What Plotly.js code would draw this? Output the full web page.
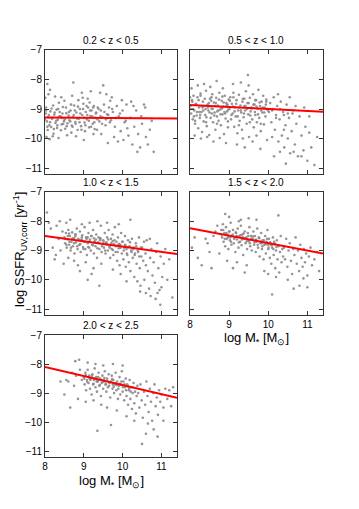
<!DOCTYPE html>
<html>
<head>
<meta charset="utf-8">
<script src="https://cdn.plot.ly/plotly-3.0.1.min.js"></script>
<style>
  html, body { margin: 0; padding: 0; background: #fff; }
  #chart { width: 359px; height: 509px; }
</style>
</head>
<body>
<div id="chart"></div>
<script>
// redshift bins
var zBins = ['0.2 &lt; z &lt; 0.5', '0.5 &lt; z &lt; 1.0', '1.0 &lt; z &lt; 1.5', '1.5 &lt; z &lt; 2.0', '2.0 &lt; z &lt; 2.5'];

// fit lines, log SSFR at log M = 8 and 11.4
var fitX = [8, 11.4];
var fitStart = [-9.29, -8.86, -8.5, -8.24, -8.1];
var fitEnd = [-9.32, -9.09, -9.12, -9.1, -9.16];

// galaxies, 0.2 < z < 0.5
var m1 = [8.02,8.05,8.08,8.03,8.11,8.14,8.07,8.18,8.21,8.16,8.24,8.27,8.3,8.22,8.33,8.36,8.31,8.4,8.43,8.38,8.46,8.49,8.52,8.44,8.55,8.58,8.5,8.61,8.57,8.63,
  8.01,8.04,8.09,8.12,8.06,8.13,8.2,8.26,8.35,8.42,
  8.66,8.69,8.72,8.75,8.78,8.81,8.84,8.87,8.9,8.93,8.96,8.99,9.02,9.05,9.08,9.11,9.14,9.17,9.2,9.23,9.26,9.29,8.7,8.8,8.95,9.0,9.1,9.25,8.73,9.18,8.68,8.86,9.03,9.15,9.28,8.97,
  9.32,9.36,9.4,9.44,9.48,9.52,9.56,9.6,9.65,9.7,9.75,9.8,9.85,9.9,9.95,10.0,10.05,10.1,10.15,10.2,10.25,10.3,10.35,10.4,10.45,10.5,10.6,10.7,10.8,9.42,9.58,9.72,9.88,10.02,10.22,10.38,10.55,10.65,9.45,9.62,9.5,9.34,10.12,9.98,10.28,10.48,10.58,10.75,9.78,9.68,
  8.0,8.03,8.06,8.1,8.13,8.17,8.19,8.23,8.25,8.29,8.32,8.34,8.37,8.41,8.45,8.47,8.51,8.54,8.56,8.6,8.62,8.65,8.67,8.71,8.74,8.77,8.79,8.83,8.85,8.89,8.91,8.94,8.98,9.01,9.04,9.07,9.09,9.13,9.16,9.19,9.22,9.24,9.27,9.31,9.35,9.38,9.43,9.47,9.53,9.57,9.63,9.67,9.73,9.83,9.93,10.08];
var s1 = [-9.15,-9.42,-9.28,-8.95,-9.55,-9.08,-9.71,-9.33,-8.88,-9.61,-9.19,-9.47,-9.02,-9.84,-9.36,-8.79,-9.64,-9.25,-9.52,-9.1,-8.93,-9.41,-9.67,-9.3,-9.14,-9.48,-8.72,-9.22,-9.89,-9.38,
  -8.62,-9.95,-8.5,-10.02,-8.15,-8.35,-9.92,-8.58,-9.98,-8.6,
  -9.05,-9.56,-9.27,-8.88,-9.44,-9.12,-9.71,-9.33,-9.0,-9.58,-9.2,-8.82,-9.46,-9.1,-9.35,-8.95,-9.62,-9.24,-9.05,-9.5,-8.9,-9.3,-8.55,-9.92,-8.45,-10.05,-8.65,-9.85,-8.1,-8.4,-9.8,-8.7,-9.75,-8.78,-9.68,-8.62,
  -9.12,-8.95,-9.42,-9.05,-9.28,-8.85,-9.55,-9.18,-8.95,-9.38,-9.1,-9.6,-8.9,-9.25,-9.75,-9.05,-9.45,-8.85,-9.9,-9.3,-10.2,-9.6,-9.05,-9.85,-10.3,-9.5,-9.95,-9.7,-10.45,-8.45,-8.5,-8.6,-10.1,-10.05,-8.75,-10.45,-8.85,-10.2,-9.85,-10.15,-8.2,-9.7,-9.65,-8.7,-8.9,-9.25,-8.95,-9.4,-9.95,-8.72,
  -9.35,-9.05,-9.6,-9.2,-9.45,-8.98,-9.3,-9.68,-9.12,-9.4,-9.55,-9.0,-9.25,-9.72,-9.15,-9.5,-9.35,-8.95,-9.58,-9.28,-9.1,-9.42,-8.85,-9.6,-9.2,-9.05,-9.5,-9.32,-8.92,-9.45,-9.15,-9.7,-9.0,-9.3,-9.55,-8.9,-9.2,-9.4,-9.05,-9.6,-9.25,-8.95,-9.45,-9.15,-9.35,-9.0,-9.25,-9.5,-9.1,-9.35,-9.2,-9.45,-9.0,-9.3,-9.15,-9.4];

// galaxies, 0.5 < z < 1.0
var m2 = [8.01,8.03,8.05,8.07,8.09,8.11,8.13,8.15,8.17,8.19,8.21,8.23,8.25,8.27,8.29,8.31,8.33,8.35,8.37,8.39,8.41,8.43,8.45,8.47,8.49,8.51,8.53,8.55,8.57,8.59,8.61,8.63,8.65,8.67,8.69,8.71,8.73,8.75,8.77,8.79,8.81,8.83,8.85,8.87,8.89,8.91,8.93,8.95,8.97,8.99,
  8.04,8.12,8.2,8.28,8.36,8.44,8.52,8.6,8.68,8.76,8.84,8.92,8.08,8.16,8.24,8.32,8.4,8.48,8.56,8.64,8.72,8.8,8.88,8.96,
  9.01,9.03,9.05,9.07,9.09,9.11,9.13,9.15,9.17,9.19,9.21,9.23,9.25,9.27,9.29,9.31,9.33,9.35,9.37,9.39,9.41,9.43,9.45,9.47,9.49,9.51,9.53,9.55,9.57,9.59,9.61,9.63,9.65,9.67,9.69,9.71,9.73,9.75,9.77,9.79,9.81,9.83,9.85,9.87,9.89,9.91,9.93,9.95,9.97,9.99,
  9.1,9.3,9.5,9.48,9.2,9.4,9.6,9.8,9.35,9.7,
  10.02,10.05,10.08,10.11,10.14,10.17,10.2,10.23,10.26,10.29,10.32,10.35,10.38,10.41,10.44,10.47,10.5,10.53,10.56,10.6,10.64,10.68,10.72,10.76,10.8,10.85,10.9,10.95,11.0,11.05,11.1,11.18,11.25,10.15,10.45,10.25,10.55,10.7,10.1,10.4,10.65,10.85,10.3,10.62,11.05,10.92,
  8.02,8.06,8.1,8.14,8.18,8.22,8.26,8.3,8.34,8.38,8.42,8.46,8.5,8.54,8.58,8.62,8.66,8.7,8.74,8.78,8.82,8.86,8.9,8.94,8.98,9.02,9.06,9.1,9.14,9.18,9.22,9.26,9.3,9.34,9.38,9.42,9.46,9.5,9.54,9.58,9.62,9.66,9.7,9.74,9.78,9.82,9.86,9.9,9.94,9.98,
  8.0,8.13,8.27,8.41,8.55,8.69,8.83,8.97,9.11,9.25,9.39,9.53,9.67,9.81,9.95,10.1,10.2,10.3,10.4,10.5];
var s2 = [-8.9,-9.15,-8.7,-9.35,-8.55,-9.05,-9.5,-8.82,-9.22,-8.6,-9.65,-8.95,-9.3,-8.48,-9.1,-9.78,-8.75,-9.42,-8.9,-9.2,-8.38,-9.58,-8.85,-9.05,-9.88,-8.65,-9.3,-8.98,-8.5,-9.45,-8.78,-9.12,-9.7,-8.62,-9.25,-8.88,-9.4,-8.45,-9.02,-9.55,-8.72,-9.18,-8.92,-9.85,-8.55,-9.32,-8.8,-9.08,-9.62,-8.68,
  -8.3,-9.9,-8.2,-10.0,-8.15,-9.95,-8.25,-10.1,-8.05,-9.98,-8.3,-10.15,-9.0,-8.85,-9.1,-8.95,-9.0,-8.8,-9.15,-8.9,-9.05,-8.95,-9.1,-8.85,
  -9.0,-8.6,-9.35,-8.82,-9.15,-8.45,-9.6,-8.95,-9.25,-8.7,-9.82,-9.05,-8.52,-9.4,-8.88,-9.12,-9.7,-8.65,-9.28,-8.9,-9.05,-8.4,-9.5,-8.8,-9.18,-9.95,-8.62,-9.08,-8.95,-9.35,-8.5,-9.62,-8.85,-9.2,-8.7,-9.45,-9.0,-8.35,-9.3,-8.9,-9.75,-8.75,-9.12,-8.55,-9.52,-8.95,-9.25,-8.68,-10.05,-9.05,
  -8.15,-8.1,-8.2,-7.85,-10.2,-10.3,-10.1,-10.35,-10.0,-9.9,
  -9.1,-8.8,-9.45,-9.0,-8.6,-9.7,-9.2,-8.9,-10.1,-9.35,-8.75,-9.9,-9.1,-10.3,-9.55,-8.85,-10.0,-9.3,-10.5,-9.75,-9.05,-10.2,-9.5,-10.6,-9.25,-9.9,-10.4,-9.6,-10.75,-9.8,-10.3,-10.9,-9.95,-10.6,-10.85,-8.5,-8.6,-8.9,-9.95,-9.7,-10.45,-10.6,-10.45,-9.15,-9.25,-8.95,
  -9.0,-8.75,-9.25,-8.85,-9.1,-8.7,-9.2,-8.9,-9.05,-8.65,-9.28,-8.95,-9.12,-8.72,-9.0,-9.22,-8.8,-9.08,-8.68,-9.18,-8.98,-8.78,-9.15,-8.88,-9.02,-8.72,-9.2,-8.92,-9.08,-8.82,-9.25,-8.95,-9.05,-8.75,-9.15,-8.9,-9.0,-8.8,-9.22,-8.98,-8.85,-9.1,-8.92,-9.18,-8.78,-9.05,-8.95,-9.12,-8.85,-9.0,
  -8.6,-9.4,-8.55,-9.45,-8.6,-9.5,-8.58,-9.42,-8.6,-9.55,-8.65,-9.45,-8.7,-9.5,-8.75,-9.05,-9.3,-9.0,-9.2,-9.15];

// galaxies, 1.0 < z < 1.5
var m3 = [8.05,8.1,8.15,8.2,8.25,8.3,8.35,8.4,8.45,8.48,8.38,8.28,
  8.5,8.52,8.54,8.56,8.58,8.6,8.62,8.64,8.66,8.68,8.7,8.72,8.74,8.76,8.78,8.8,8.82,8.84,8.86,8.88,8.9,8.92,8.94,8.96,8.98,9.0,9.02,9.04,9.06,9.08,9.1,9.12,9.14,9.16,9.18,9.2,9.22,9.24,9.26,9.28,9.3,9.32,9.34,9.36,9.38,9.4,9.42,9.44,9.46,9.48,
  8.55,8.65,8.75,8.85,8.95,9.05,9.15,9.25,9.35,9.45,8.6,8.9,9.2,9.4,9.1,
  9.5,9.52,9.54,9.56,9.58,9.6,9.62,9.64,9.66,9.68,9.7,9.72,9.74,9.76,9.78,9.8,9.82,9.84,9.86,9.88,9.9,9.92,9.94,9.96,9.98,10.0,10.02,10.04,10.06,10.08,10.1,10.12,10.14,10.16,10.18,10.2,10.22,10.24,10.26,10.28,10.3,10.32,10.34,10.36,10.38,10.4,10.42,10.44,10.46,10.48,
  9.6,9.9,10.2,9.75,9.95,10.1,
  10.5,10.53,10.56,10.59,10.62,10.65,10.68,10.71,10.74,10.77,10.8,10.83,10.86,10.89,10.92,10.95,10.98,11.02,11.06,11.1,11.15,11.2,10.6,10.72,10.85,10.55,10.7,10.9,11.0,11.28,10.97,10.45,10.6,
  8.51,8.55,8.59,8.63,8.67,8.71,8.75,8.79,8.83,8.87,8.91,8.95,8.99,9.03,9.07,9.11,9.15,9.19,9.23,9.27,9.31,9.35,9.39,9.43,9.47,9.51,9.55,9.59,9.63,9.67,9.71,9.75,9.79,9.83,9.87,9.91,9.95,9.99,10.03,10.07,10.11,10.15,10.19,10.23,10.27,10.31,10.35,10.39,10.43,10.47,
  8.62,8.78,8.94,9.1,9.26,9.42,9.58,9.74,9.9,10.06];
var s3 = [-7.7,-8.05,-8.25,-8.9,-9.3,-8.15,-8.6,-9.0,-8.35,-9.45,-8.0,-9.15,
  -8.55,-8.75,-8.4,-8.9,-8.62,-8.3,-8.8,-8.5,-9.0,-8.7,-8.38,-8.85,-8.58,-9.1,-8.45,-8.72,-8.25,-8.95,-8.6,-8.8,-8.35,-9.05,-8.65,-8.48,-8.88,-8.7,-8.2,-8.95,-8.55,-9.15,-8.75,-8.4,-8.9,-8.62,-9.0,-8.5,-8.8,-8.3,-9.1,-8.68,-8.85,-8.45,-9.25,-8.72,-8.55,-8.95,-8.6,-8.15,-9.05,-8.78,
  -8.05,-7.95,-9.35,-9.5,-8.1,-9.4,-8.05,-9.6,-8.0,-9.45,-9.25,-9.7,-9.8,-10.2,-10.0,
  -8.65,-8.9,-8.4,-9.1,-8.75,-8.55,-9.0,-8.3,-8.85,-9.25,-8.6,-8.95,-8.45,-9.15,-8.78,-8.2,-9.05,-8.7,-9.35,-8.55,-8.92,-9.5,-8.8,-8.4,-9.1,-8.7,-9.3,-8.9,-8.5,-9.55,-8.95,-9.15,-8.65,-9.4,-8.85,-9.7,-9.0,-8.6,-9.25,-8.9,-9.9,-9.1,-8.75,-9.45,-10.05,-9.05,-8.55,-9.6,-10.2,-9.2,
  -8.05,-8.1,-7.95,-9.65,-9.8,-10.05,
  -8.9,-9.35,-10.0,-9.1,-8.65,-9.7,-10.3,-9.25,-8.95,-9.85,-9.4,-10.1,-9.05,-8.75,-9.6,-10.35,-9.2,-9.9,-9.45,-8.95,-10.0,-9.3,-10.45,-10.55,-10.65,-8.7,-8.6,-10.45,-10.25,-10.6,-10.85,-10.4,-9.5,
  -8.6,-8.8,-8.5,-8.7,-8.9,-8.58,-8.75,-8.45,-8.85,-8.65,-8.78,-8.55,-8.95,-8.7,-8.6,-8.88,-8.68,-8.5,-8.82,-8.72,-8.62,-8.92,-8.75,-8.58,-8.85,-8.7,-9.0,-8.8,-8.62,-8.9,-8.75,-8.98,-8.65,-8.85,-9.05,-8.78,-8.9,-8.7,-9.0,-8.82,-9.1,-8.88,-8.72,-9.05,-8.95,-9.15,-8.85,-9.0,-9.2,-8.9,
  -8.42,-8.52,-8.62,-8.55,-8.58,-8.65,-8.72,-8.68,-8.78,-8.8];

// galaxies, 1.5 < z < 2.0
var m4 = [8.05,8.2,8.3,8.45,8.5,8.55,8.6,8.65,8.7,8.75,8.4,8.12,
  8.8,8.82,8.84,8.86,8.88,8.9,8.92,8.94,8.96,8.98,9.0,9.02,9.04,9.06,9.08,9.1,9.12,9.14,9.16,9.18,9.2,9.22,9.24,9.26,9.28,9.3,9.32,9.34,9.36,9.38,9.4,9.42,9.44,9.46,9.48,9.5,9.52,9.54,9.56,9.58,
  8.9,9.0,9.3,9.5,8.95,9.2,9.45,9.1,9.4,9.25,
  9.6,9.62,9.64,9.66,9.68,9.7,9.72,9.74,9.76,9.78,9.8,9.82,9.84,9.86,9.88,9.9,9.92,9.94,9.96,9.98,10.0,10.02,10.04,10.06,10.08,10.1,10.12,10.14,10.16,10.18,10.2,10.22,10.24,10.26,10.28,10.3,10.32,10.34,10.36,10.38,
  9.7,10.26,10.1,9.9,10.0,10.2,
  10.4,10.43,10.46,10.49,10.52,10.55,10.58,10.61,10.64,10.67,10.7,10.73,10.76,10.79,10.82,10.85,10.88,10.91,10.94,10.97,11.0,11.04,11.08,11.12,11.18,11.25,10.5,10.8,11.0,10.65,10.9,11.3,
  8.81,8.85,8.89,8.93,8.97,9.01,9.05,9.09,9.13,9.17,9.21,9.25,9.29,9.33,9.37,9.41,9.45,9.49,9.53,9.57,9.61,9.65,9.69,9.73,9.77,9.81,9.85,9.89,9.93,9.97,10.01,10.05,10.09,10.13,10.17,10.21,
  9.03,9.19,9.35,9.51,9.67,9.83,9.99,10.15];
var s4 = [-8.9,-9.25,-9.5,-8.75,-9.05,-9.6,-8.5,-8.35,-8.15,-9.1,-8.6,-8.55,
  -8.3,-8.55,-8.1,-8.7,-8.4,-8.85,-8.2,-8.6,-8.45,-8.95,-8.35,-8.65,-8.05,-8.8,-8.5,-8.3,-8.75,-8.55,-9.05,-8.4,-8.62,-8.25,-8.9,-8.5,-8.7,-8.15,-8.82,-8.45,-9.15,-8.6,-8.35,-8.75,-8.55,-8.95,-8.4,-8.68,-8.2,-8.85,-8.5,-9.0,
  -7.75,-7.85,-7.95,-7.9,-9.35,-9.4,-9.5,-9.6,-9.75,-8.0,
  -8.6,-8.35,-8.8,-8.5,-9.05,-8.7,-8.25,-8.9,-8.55,-9.2,-8.75,-8.4,-8.95,-8.65,-9.3,-8.8,-8.5,-9.1,-8.7,-8.3,-8.95,-8.6,-9.25,-8.8,-9.45,-8.9,-8.55,-9.15,-8.75,-9.6,-9.0,-8.65,-9.3,-8.85,-9.75,-9.05,-8.5,-9.4,-8.95,-9.2,
  -7.95,-7.8,-10.5,-9.7,-9.8,-9.9,
  -8.9,-9.3,-8.6,-9.55,-9.0,-8.75,-9.35,-9.8,-8.95,-9.15,-8.55,-9.45,-9.0,-9.7,-8.8,-9.25,-9.55,-8.95,-9.4,-9.1,-9.85,-9.2,-8.9,-9.5,-9.3,-9.05,-10.0,-10.2,-10.25,-10.3,-9.95,-9.7,
  -8.45,-8.3,-8.6,-8.4,-8.55,-8.35,-8.7,-8.45,-8.6,-8.38,-8.52,-8.72,-8.48,-8.62,-8.42,-8.58,-8.68,-8.5,-8.75,-8.6,-8.52,-8.72,-8.62,-8.8,-8.58,-8.7,-8.85,-8.65,-8.78,-8.6,-8.9,-8.72,-8.82,-8.95,-8.78,-8.88,
  -8.55,-8.5,-8.55,-8.65,-8.66,-8.75,-8.8,-8.7];

// galaxies, 2.0 < z < 2.5
var m5 = [8.4,8.5,8.55,8.65,8.7,8.75,8.8,8.85,8.6,8.9,8.95,8.78,8.88,
  9.0,9.02,9.04,9.06,9.08,9.1,9.12,9.14,9.16,9.18,9.2,9.22,9.24,9.26,9.28,9.3,9.32,9.34,9.36,9.38,9.4,9.42,9.44,9.46,9.48,9.5,9.52,9.54,9.56,9.58,9.6,9.62,9.64,9.66,9.68,
  9.1,9.3,9.5,9.05,9.25,9.45,9.35,9.6,
  9.7,9.72,9.74,9.76,9.78,9.8,9.82,9.84,9.86,9.88,9.9,9.92,9.94,9.96,9.98,10.0,10.02,10.04,10.06,10.08,10.1,10.12,10.14,10.16,10.18,10.2,10.22,10.24,10.26,10.28,10.3,10.32,10.34,10.36,10.38,
  9.75,10.0,9.85,9.7,10.1,10.3,
  10.4,10.43,10.46,10.49,10.52,10.55,10.58,10.61,10.64,10.67,10.7,10.73,10.76,10.79,10.82,10.85,10.88,10.91,10.94,10.97,11.0,11.05,11.1,11.15,11.2,11.3,10.5,10.6,10.8,10.9,11.05,11.25,10.65,
  9.01,9.05,9.09,9.13,9.17,9.21,9.25,9.29,9.33,9.37,9.41,9.45,9.49,9.53,9.57,9.61,9.65,9.69,9.73,9.77,9.81,9.85,9.89,9.93,9.97,10.01,10.05,10.09,10.13,10.17,10.21,10.25,
  9.15,9.35,9.55,9.75,9.95,10.15];
var s5 = [-8.6,-9.05,-8.55,-9.5,-8.3,-8.75,-8.4,-9.2,-8.6,-8.2,-8.55,-7.9,-7.85,
  -8.45,-8.7,-8.3,-8.9,-8.55,-8.2,-8.65,-8.4,-8.85,-8.5,-9.05,-8.35,-8.7,-8.55,-8.15,-8.8,-8.45,-8.95,-8.6,-8.3,-8.75,-8.5,-9.1,-8.65,-8.4,-8.85,-8.55,-8.25,-8.7,-8.95,-8.5,-8.8,-8.35,-8.65,-9.15,
  -7.95,-8.0,-8.05,-9.3,-9.25,-9.4,-10.3,-9.5,
  -8.6,-8.4,-8.85,-8.55,-9.0,-8.7,-8.3,-8.9,-8.6,-9.2,-8.75,-8.45,-9.05,-8.7,-8.25,-8.95,-8.6,-9.25,-8.8,-8.5,-9.1,-8.7,-9.4,-8.9,-8.55,-9.2,-8.8,-9.55,-9.0,-8.65,-9.35,-8.95,-9.7,-9.1,-8.75,
  -8.0,-8.05,-9.6,-10.1,-9.8,-9.95,
  -9.0,-9.5,-8.7,-9.25,-9.85,-8.95,-9.4,-8.6,-9.1,-9.65,-8.85,-9.3,-9.95,-9.0,-8.7,-9.45,-9.15,-9.75,-8.9,-9.3,-9.05,-9.5,-8.85,-9.2,-8.9,-8.8,-10.75,-10.4,-10.25,-10.5,-9.95,-9.45,-10.05,
  -8.5,-8.38,-8.62,-8.45,-8.55,-8.4,-8.68,-8.5,-8.6,-8.45,-8.72,-8.55,-8.62,-8.48,-8.7,-8.58,-8.75,-8.62,-8.52,-8.78,-8.65,-8.72,-8.85,-8.68,-8.6,-8.8,-8.7,-8.9,-8.75,-8.85,-8.95,-8.8,
  -8.5,-8.58,-8.6,-8.7,-8.72,-8.78];

var masses = [m1, m2, m3, m4, m5];
var ssfrs = [s1, s2, s3, s4, s5];

var font = 'Liberation Sans, Arial, sans-serif';
var data = [];
for (var i = 0; i < 5; i++) {
  var n = i === 0 ? '' : String(i + 1);
  data.push({
    x: masses[i], y: ssfrs[i], type: 'scatter', mode: 'markers',
    xaxis: 'x' + n, yaxis: 'y' + n,
    marker: {size: 2.6, color: '#8a8a8a', opacity: 0.9},
    hoverinfo: 'skip', showlegend: false
  });
  data.push({
    x: fitX, y: [fitStart[i], fitEnd[i]], type: 'scatter', mode: 'lines',
    xaxis: 'x' + n, yaxis: 'y' + n,
    line: {color: '#ff0000', width: 2},
    showlegend: false
  });
}

var colX = [[0.1253, 0.4930], [0.5292, 0.8997]];
var rowY = [[0.6582, 0.9018], [0.3811, 0.6228], [0.1022, 0.3418]];

var layout = {
  width: 359, height: 509,
  margin: {l: 0, r: 0, t: 0, b: 0},
  paper_bgcolor: '#fff', plot_bgcolor: '#fff',
  font: {family: font, size: 10, color: '#000'},
  annotations: []
};

for (var j = 0; j < 5; j++) {
  var k = j === 0 ? '' : String(j + 1);
  var col = j % 2, row = Math.floor(j / 2);
  var xlab = (j === 3 || j === 4);
  var ylab = (col === 0);
  layout['xaxis' + k] = {
    domain: colX[col], range: [8, 11.4], anchor: 'y' + k,
    tickvals: [8, 9, 10, 11], showticklabels: xlab,
    ticks: 'inside', ticklen: 4, tickcolor: '#333',
    showline: true, linecolor: '#333', linewidth: 1, mirror: 'ticks',
    showgrid: false, zeroline: false, fixedrange: true,
    tickfont: {size: 10}
  };
  layout['yaxis' + k] = {
    domain: rowY[row], range: [-11.2, -7], anchor: 'x' + k,
    tickvals: [-7, -8, -9, -10, -11], showticklabels: ylab,
    ticks: 'inside', ticklen: 4, tickcolor: '#333',
    showline: true, linecolor: '#333', linewidth: 1, mirror: 'ticks',
    showgrid: false, zeroline: false, fixedrange: true,
    tickfont: {size: 10}
  };
  layout.annotations.push({
    text: zBins[j], xref: 'paper', yref: 'paper',
    x: (colX[col][0] + colX[col][1]) / 2, y: rowY[row][1] + 0.004,
    xanchor: 'center', yanchor: 'bottom', showarrow: false,
    font: {size: 10}
  });
}

layout.annotations.push({
  text: 'log SSFR<sub>UV,corr</sub> [yr<sup>-1</sup>]',
  xref: 'paper', yref: 'paper', x: 20 / 359, y: 1 - 250 / 509,
  xanchor: 'center', yanchor: 'middle', textangle: -90, showarrow: false,
  font: {size: 13}
});
layout.annotations.push({
  text: 'log M<sub>*</sub> [M<sub>⊙</sub>]',
  xref: 'paper', yref: 'paper', x: 256 / 359, y: 1 - 338 / 509,
  xanchor: 'center', yanchor: 'middle', showarrow: false,
  font: {size: 13}
});
layout.annotations.push({
  text: 'log M<sub>*</sub> [M<sub>⊙</sub>]',
  xref: 'paper', yref: 'paper', x: 111 / 359, y: 1 - 481 / 509,
  xanchor: 'center', yanchor: 'middle', showarrow: false,
  font: {size: 13}
});

Plotly.newPlot('chart', data, layout, {displayModeBar: false, staticPlot: true});
</script>
</body>
</html>
